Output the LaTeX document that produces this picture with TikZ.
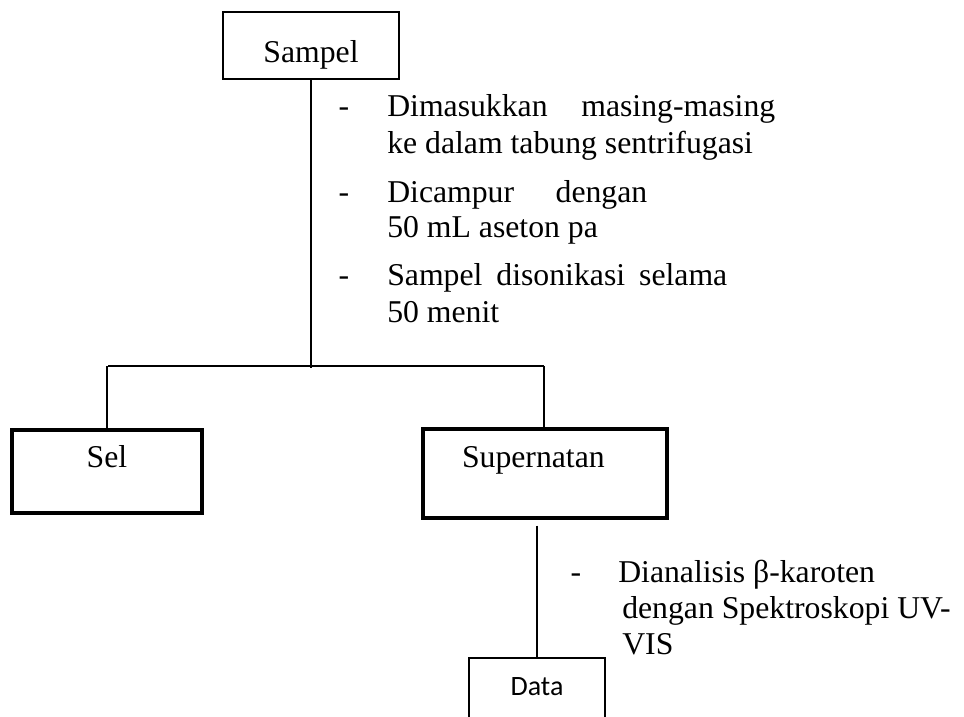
\documentclass[tikz,border=0pt]{standalone}
\usepackage{fontspec}
\setmainfont{Liberation Serif}
\newfontfamily\calibrifont{Carlito}

\begin{document}
\begin{tikzpicture}[x=0.75pt, y=-0.75pt,
      every node/.style={font=\fontsize{23.8pt}{27pt}\selectfont},
      box/.style={draw, line width=1.2pt, inner sep=0pt},
      boldbox/.style={draw, line width=2.4pt, inner sep=0pt},
      txt/.style={anchor=base west, inner sep=0pt},
      stripe/.style={anchor=base, inner sep=0pt},
      link/.style={line width=1.2pt},
      boldlink/.style={line width=2.2pt}]
    \useasboundingbox (0,0) rectangle (964,717);
    \clip (0,0) rectangle (964,717);
    % boxes
    \node[box, minimum width=132pt, minimum height=50.25pt,
          text height=26.25pt, text depth=0pt] (sampel) at (311,45.5) {Sampel};
    \node[boldbox, minimum width=142.5pt, minimum height=62.25pt,
          text height=16.5pt, text depth=23.25pt] (sel) at (107,471.5) {Sel};
    \node[boldbox, text width=124.5pt, align=left, inner xsep=29.25pt,
          minimum height=66.75pt, text height=16.5pt, text depth=26.25pt]
          (supernatan) at (545,473.5) {Supernatan};
    \node[box, minimum width=102pt, minimum height=49.5pt,
          font=\calibrifont\fontsize{21pt}{25pt}\selectfont,
          text height=15pt, text depth=9pt] (data) at (537,691) {Data};
    % split
    \coordinate (jl) at (108,366);
    \coordinate (jr) at (544,366);
    \draw[link] (sampel.south) -- ([yshift=-1.5pt]sampel.south |- jl);
    \draw[boldlink] (jl) -- (jr);
    \draw[boldlink] (sel.north |- jl) -- (sel.north);
    \draw[boldlink] (jr) -- (jr |- supernatan.north);
    \draw[link, shorten <=4.5pt] (supernatan.south -| data.north) -- (data.north);
    % steps
    \node[stripe] (s1) at (344,117) {-};
    \node[txt] (t1a) at (387,117) {\makebox[291pt][s]{Dimasukkan masing-masing}};
    \node[txt] (t1b) at (387,153) {ke dalam tabung sentrifugasi};
    \node[stripe] (s2) at (344,202) {-};
    \node[txt] (t2a) at (387,202) {\makebox[195pt][s]{Dicampur dengan}};
    \node[txt] (t2b) at (387,237) {50 mL aseton pa};
    \node[stripe] (s3) at (344,285) {-};
    \node[txt] (t3a) at (387,285) {\makebox[255pt][s]{Sampel disonikasi selama}};
    \node[txt] (t3b) at (387,322) {50 menit};
    \node[stripe] (s4) at (576,582) {-};
    \node[txt] (t4a) at (618,582) {Dianalisis β-karoten};
    \node[txt] (t4b) at (622,618) {dengan Spektroskopi UV-};
    \node[txt] (t4c) at (622,654) {VIS};
  \end{tikzpicture}
\end{document}
